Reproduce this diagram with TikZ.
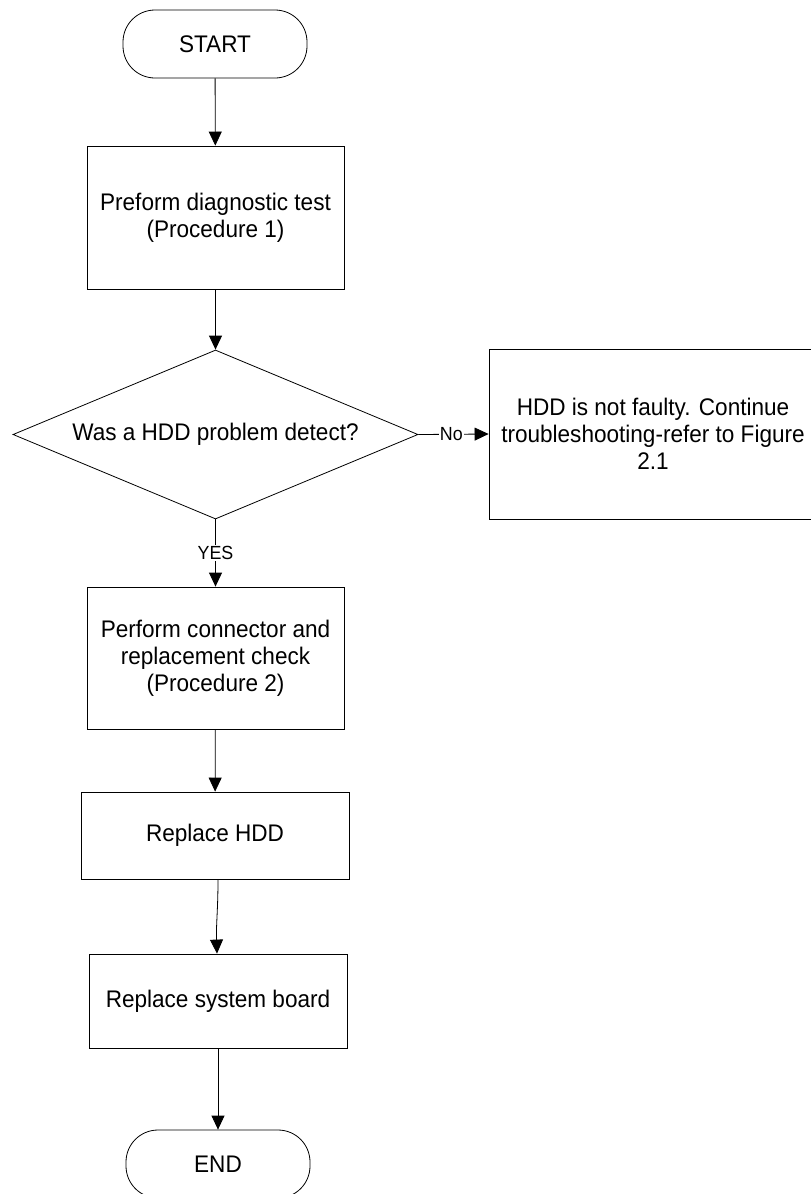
\documentclass[tikz,border=0pt]{standalone}
\usepackage{fontspec}
\setmainfont{Liberation Sans}[FakeStretch=0.94]
\usetikzlibrary{arrows.meta,shapes.geometric}
\begin{document}
\begin{tikzpicture}[x=1pt,y=-1pt,
 every node/.style={font=\fontsize{24}{27}\selectfont},
 box/.style={draw, line width=0.8pt, rectangle, align=center, inner sep=0pt},
 term/.style={draw, line width=0.8pt, rounded corners=32pt, inner sep=0pt, minimum width=184pt, minimum height=68pt},
 arr/.style={line width=0.8pt, -{Triangle[length=14pt,width=13pt]}},
 lbl/.style={fill=white, inner sep=1pt, font=\fontsize{19}{22}\selectfont}]
\useasboundingbox (0,0) rectangle (811,1194);
\node[term] (start) at (215,44) {START};
\node[box, minimum width=257pt, minimum height=143pt] (p1) at (215.5,217.5) {Preform diagnostic test\\(Procedure 1)};
\node[draw, diamond, line width=0.8pt, minimum width=405pt, minimum height=169pt, inner sep=0pt, shape aspect=2.4] (dec) at (215.5,434.5) {Was a HDD problem detect?};
\node[box, minimum width=328pt, minimum height=170pt] (nf) at (653,434) {HDD is not faulty. Continue\\troubleshooting-refer to Figure\\2.1};
\node[box, minimum width=257pt, minimum height=142pt] (p2) at (215.5,658) {Perform connector and\\replacement check\\(Procedure 2)};
\node[box, minimum width=268pt, minimum height=87pt] (rh) at (215,835.5) {Replace HDD};
\node[box, minimum width=258pt, minimum height=94pt] (rs) at (218,1001) {Replace system board};
\node[term] (end) at (218,1164) {END};
\draw[arr] (start) -- (p1);
\draw[arr] (p1) -- (dec);
\draw[arr] (dec.east) -- node[lbl, pos=0.47] {No} (nf.west);
\draw[arr] (dec.south) -- node[lbl, pos=0.5] {YES} (p2.north);
\draw[arr] (p2) -- (rh);
\draw[arr] ([xshift=3pt]rh.south) .. controls (218,910) and (216,925) .. ([xshift=-1pt]rs.north);
\draw[arr] (rs) -- (end);
\end{tikzpicture}
\end{document}
